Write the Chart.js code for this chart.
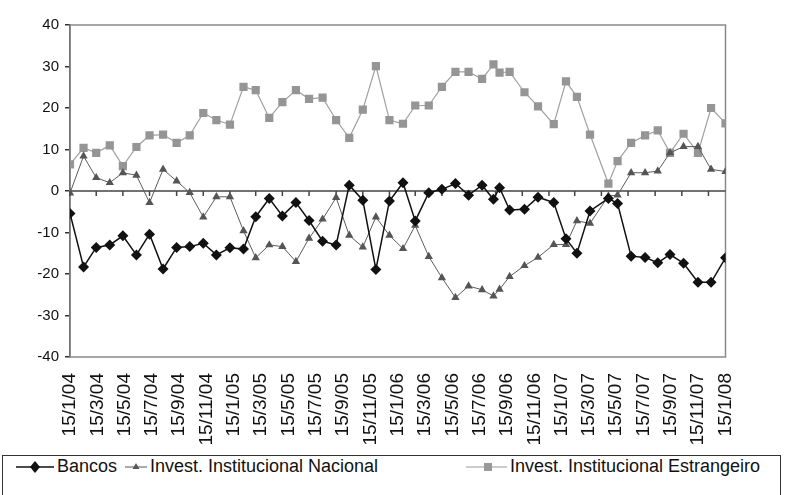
<!DOCTYPE html>
<html>
<head>
<meta charset="utf-8">
<script src="https://cdn.jsdelivr.net/npm/chart.js@4/dist/chart.umd.min.js"></script>
<style>
  html, body { margin: 0; padding: 0; background: #fff; }
  #wrap { position: relative; width: 785px; height: 495px; overflow: hidden; font-family: "Liberation Sans", Arial, sans-serif; }
  #flows { position: absolute; left: 0; top: 0; }
  #legend { position: absolute; left: 2px; top: 455px; width: 779px; height: 50px; border: 1px solid #333; box-sizing: border-box; }
  .item { position: absolute; top: 0px; display: flex; align-items: center; font-size: 18px; color: #111; white-space: nowrap; }
  .item svg { margin-right: 3px; }
</style>
</head>
<body>
<div id="wrap">
  <canvas id="flows" width="785" height="455"></canvas>
  <div id="legend">
    <div class="item" style="left:13px">
      <svg width="38" height="14"><line x1="0" y1="7" x2="38" y2="7" stroke="#111" stroke-width="1.5"/><polygon points="19,1 24,7 19,13 14,7" fill="#111"/></svg>Bancos
    </div>
    <div class="item" style="left:122px">
      <svg width="22" height="14"><line x1="0" y1="7" x2="22" y2="7" stroke="#555" stroke-width="1"/><polygon points="11,3 14.5,9 7.5,9" fill="#555"/></svg>Invest. Institucional Nacional
    </div>
    <div class="item" style="left:463px">
      <svg width="41" height="14"><line x1="0" y1="7" x2="41" y2="7" stroke="#999" stroke-width="1.2"/><rect x="18" y="3" width="8" height="8" fill="#999"/></svg>Invest. Institucional Estrangeiro
    </div>
  </div>
</div>
<script>
// observation dates (d/m/yy) and net flows per investor group
const obsDates = [
  "15/1/04", "15/2/04", "15/3/04", "15/4/04", "15/5/04", "15/6/04", "15/7/04", "15/8/04", "15/9/04", "15/10/04", "15/11/04", "15/12/04",
  "15/1/05", "15/2/05", "15/3/05", "15/4/05", "15/5/05", "15/6/05", "15/7/05", "15/8/05", "15/9/05", "15/10/05", "15/11/05", "15/12/05",
  "15/1/06", "15/2/06", "15/3/06", "15/4/06", "15/5/06", "15/6/06", "15/7/06", "15/8/06", "10/9/06", "24/9/06", "17/10/06", "20/11/06", "21/12/06",
  "26/1/07", "23/2/07", "20/3/07", "19/4/07", "31/5/07", "21/6/07", "22/7/07", "23/8/07", "21/9/07", "19/10/07", "19/11/07", "22/12/07",
  "21/1/08", "23/2/08"
];

const bancos = [
  -5.4, -18.3, -13.6, -13.0, -10.8, -15.4, -10.4, -18.8, -13.6, -13.4, -12.6, -15.4,
  -13.7, -14.0, -6.2, -1.8, -6.0, -2.8, -7.1, -12.1, -13.0, 1.4, -2.2, -18.9,
  -2.4, 2.0, -7.2, -0.4, 0.4, 1.8, -1.0, 1.4, -2.0, 0.8, -4.6, -4.4, -1.5,
  -2.8, -11.5, -15.0, -4.8, -1.8, -3.0, -15.7, -16.0, -17.3, -15.3, -17.4, -22.0,
  -22.0, -16.1
];

const nacional = [
  -0.5, 8.4, 3.2, 2.0, 4.4, 3.8, -2.8, 5.2, 2.4, -0.4, -6.3, -1.4,
  -1.4, -9.6, -16.1, -13.0, -13.4, -17.0, -11.4, -6.8, -1.6, -10.7, -13.5, -6.3,
  -10.7, -13.9, -8.3, -15.8, -20.9, -25.7, -22.9, -23.8, -25.3, -23.7, -20.6, -18.0, -16.0,
  -12.9, -12.9, -7.2, -7.8, -1.2, -1.0, 4.4, 4.4, 4.8, 9.2, 10.7, 10.7,
  5.2, 4.7
];

const estrangeiro = [
  6.4, 10.4, 9.2, 11.0, 6.0, 10.6, 13.4, 13.6, 11.6, 13.4, 18.8, 17.1,
  16.0, 25.1, 24.3, 17.6, 21.4, 24.3, 22.2, 22.5, 17.1, 12.8, 19.6, 30.1,
  17.1, 16.2, 20.6, 20.6, 25.1, 28.7, 28.7, 27.0, 30.5, 28.5, 28.7, 23.8, 20.4,
  16.1, 26.4, 22.7, 13.6, 1.8, 7.2, 11.6, 13.4, 14.6, 9.2, 13.8, 9.2,
  20.0, 16.3
];

// axis labels, every two months
const tickLabels = [
  "15/1/04", "15/3/04", "15/5/04", "15/7/04", "15/9/04", "15/11/04",
  "15/1/05", "15/3/05", "15/5/05", "15/7/05", "15/9/05", "15/11/05",
  "15/1/06", "15/3/06", "15/5/06", "15/7/06", "15/9/06", "15/11/06",
  "15/1/07", "15/3/07", "15/5/07", "15/7/07", "15/9/07", "15/11/07",
  "15/1/08"
];

const toUtc = (s) => {
  const [d, m, y] = s.split("/").map(Number);
  return Date.UTC(2000 + y, m - 1, d);
};
const base = toUtc(obsDates[0]);
const dayOf = (s) => Math.round((toUtc(s) - base) / 86400000);

const days = obsDates.map(dayOf);
const tickDays = tickLabels.map(dayOf);
const lastDay = days[days.length - 1];

// labels are spread evenly over the whole axis span
const labelPos = tickLabels.map((_, k) => (k * lastDay) / (tickLabels.length - 1));

const series = (values) => values.map((v, i) => ({ x: days[i], y: v }));

// frame around the plot, zero line with its tick marks
const framePlugin = {
  id: "frame",
  beforeDatasetsDraw(chart) {
    const { ctx, chartArea: a, scales } = chart;
    const y0 = scales.y.getPixelForValue(0);
    ctx.save();
    ctx.strokeStyle = "#8a8a8a";
    ctx.lineWidth = 1.5;
    ctx.strokeRect(a.left, a.top, a.right - a.left, a.bottom - a.top);
    ctx.strokeStyle = "#444";
    ctx.lineWidth = 1.5;
    ctx.beginPath();
    ctx.moveTo(a.left, y0);
    ctx.lineTo(a.right, y0);
    tickDays.forEach((d) => {
      const x = scales.x.getPixelForValue(d);
      ctx.moveTo(x, y0);
      ctx.lineTo(x, y0 + 5);
    });
    ctx.stroke();
    ctx.restore();
  },
};

new Chart(document.getElementById("flows"), {
  type: "line",
  data: {
    datasets: [
      {
        label: "Bancos",
        data: series(bancos),
        borderColor: "#111",
        backgroundColor: "#111",
        borderWidth: 1.5,
        pointStyle: "rectRot",
        pointRadius: 5.5,
        pointBorderWidth: 0,
        tension: 0,
      },
      {
        label: "Invest. Institucional Nacional",
        data: series(nacional),
        borderColor: "#5c5c5c",
        backgroundColor: "#555",
        borderWidth: 1,
        pointStyle: "triangle",
        pointRadius: 4.8,
        pointBorderWidth: 0,
        tension: 0,
      },
      {
        label: "Invest. Institucional Estrangeiro",
        data: series(estrangeiro),
        borderColor: "#a0a0a0",
        backgroundColor: "#959595",
        borderWidth: 1.2,
        pointStyle: "rect",
        pointRadius: 5.8,
        pointBorderWidth: 0,
        tension: 0,
      },
    ],
  },
  options: {
    responsive: false,
    animation: false,
    devicePixelRatio: 1,
    layout: { padding: { left: 0, right: 59.5, top: 25, bottom: 0 } },
    plugins: { legend: { display: false }, tooltip: { enabled: false } },
    scales: {
      x: {
        type: "linear",
        min: 0,
        max: lastDay,
        afterBuildTicks: (scale) => {
          scale.ticks = labelPos.map((v) => ({ value: v }));
        },
        afterFit: (scale) => {
          scale.height = 98;
        },
        grid: { display: false },
        border: { display: false },
        ticks: {
          autoSkip: false,
          minRotation: 90,
          maxRotation: 90,
          padding: 8,
          color: "#111",
          font: { family: "Liberation Sans", size: 19 },
          callback: (v) => tickLabels[labelPos.indexOf(v)],
        },
      },
      y: {
        min: -40,
        max: 40,
        afterFit: (scale) => {
          scale.width = 70;
        },
        grid: { drawOnChartArea: false, drawTicks: true, tickLength: 5, color: "#333", lineWidth: 1.5 },
        border: { display: true, color: "#333", width: 1.5 },
        ticks: {
          stepSize: 10,
          padding: 6,
          color: "#111",
          font: { family: "Liberation Sans", size: 15 },
        },
      },
    },
  },
  plugins: [framePlugin],
});
</script>
</body>
</html>
